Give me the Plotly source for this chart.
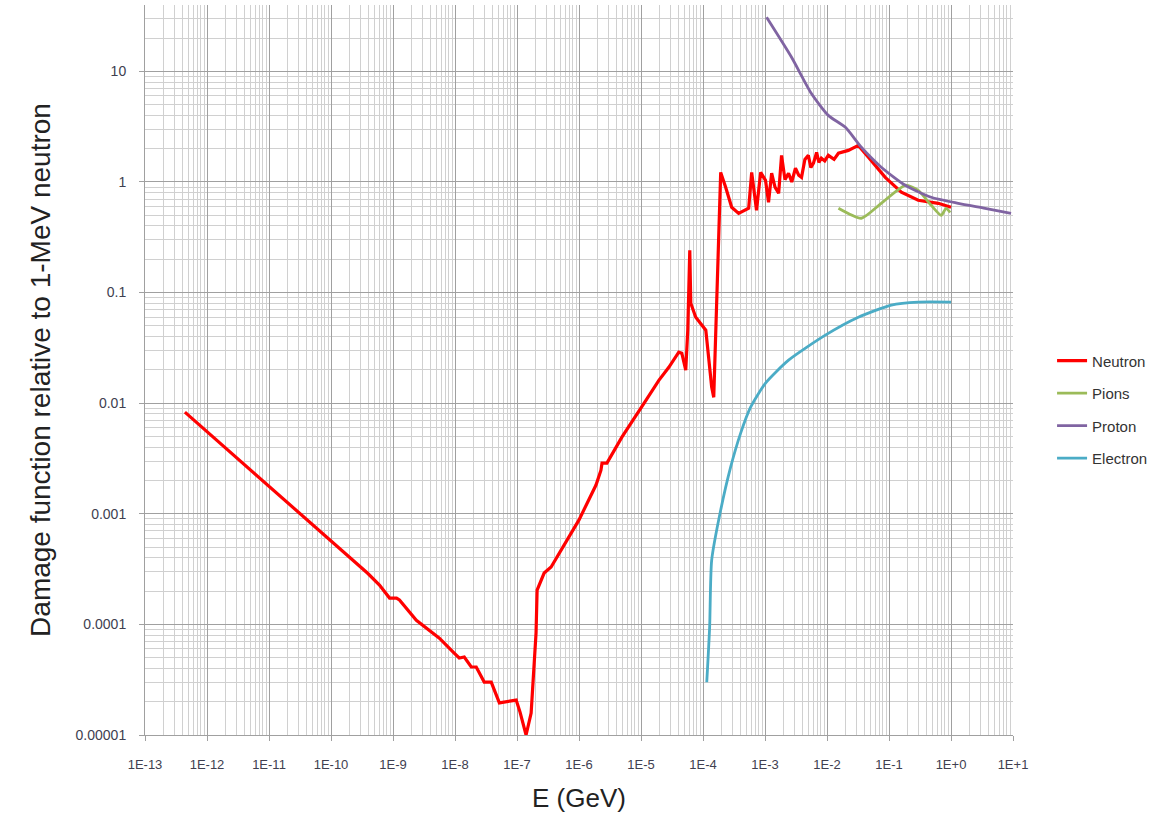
import plotly.graph_objects as go

# ---------------- data ----------------
neutron_E = [4.4e-13, 3.9e-10, 6.05e-10, 7.3e-10, 8.8e-10, 1.14e-9, 1.27e-9, 2.38e-9,
             5.6e-9, 9.7e-9, 1.17e-8, 1.41e-8, 1.83e-8, 2.2e-8, 2.96e-8, 3.84e-8,
             5.2e-8, 9.7e-8, 1.12e-7, 1.40e-7, 1.69e-7, 2.03e-7, 2.11e-7, 2.74e-7,
             3.55e-7, 1.0e-6, 1.45e-6, 1.88e-6, 2.26e-6, 2.35e-6, 2.82e-6, 3.94e-6,
             4.92e-6, 1.2e-5, 1.94e-5, 2.81e-5, 4.07e-5, 4.55e-5, 5.27e-5, 5.68e-5,
             6.12e-5, 6.35e-5, 7.64e-5, 1.11e-4, 1.38e-4, 1.49e-4, 1.6e-4, 1.79e-4,
             1.93e-4, 2.32e-4, 2.9e-4, 3.76e-4, 5.45e-4, 6.1e-4, 7.3e-4, 8.5e-4,
             1.02e-3, 1.14e-3, 1.28e-3, 1.45e-3, 1.66e-3, 1.85e-3, 2.1e-3, 2.4e-3,
             2.7e-3, 3.1e-3, 3.5e-3, 3.88e-3, 4.4e-3, 5.0e-3, 5.5e-3, 6.05e-3,
             6.8e-3, 7.4e-3, 8.1e-3, 9.2e-3, 1.05e-2, 1.3e-2, 1.53e-2, 2.21e-2,
             3.2e-2, 4.65e-2, 8.7e-2, 0.158, 0.296, 0.622, 1.0]
neutron_D = [8.3e-3, 2.9e-4, 2.27e-4, 1.96e-4, 1.73e-4, 1.73e-4, 1.66e-4, 1.09e-4,
             7.5e-5, 5.5e-5, 4.97e-5, 5.07e-5, 4.12e-5, 4.12e-5, 3.01e-5, 3.01e-5,
             1.95e-5, 2.07e-5, 1.61e-5, 1.0e-5, 1.58e-5, 8.4e-5, 2.04e-4, 2.91e-4,
             3.3e-4, 8.8e-4, 1.33e-3, 1.82e-3, 2.48e-3, 2.87e-3, 2.87e-3, 4.0e-3,
             4.93e-3, 1.06e-2, 1.61e-2, 2.11e-2, 2.89e-2, 2.83e-2, 1.99e-2, 4.57e-2,
             0.241, 8.0e-2, 5.98e-2, 4.57e-2, 1.40e-2, 1.13e-2, 4.57e-2, 0.366,
             1.22, 0.895, 0.59, 0.52, 0.578, 1.22, 0.555, 1.22,
             1.035, 0.655, 1.2, 0.9, 0.79, 1.74, 1.05, 1.2,
             1.0, 1.33, 1.15, 1.10, 1.6, 1.74, 1.35, 1.48,
             1.85, 1.5, 1.64, 1.55, 1.74, 1.6, 1.82, 1.93,
             2.14, 1.67, 1.10, 0.807, 0.683, 0.641, 0.59]

pions_E = [1.53e-2, 3.58e-2, 7.5e-2, 0.183, 0.296, 0.48, 0.695, 0.836, 0.97]
pions_D = [0.578, 0.47, 0.641, 0.933, 0.84, 0.615, 0.50, 0.578, 0.53]

proton_E = [1.06e-3, 2.68e-3, 5.6e-3, 1.05e-2, 1.98e-2, 3.58e-2, 7.5e-2, 0.183,
            0.48, 1.31, 3.55, 9.3]
proton_D = [30.8, 13.4, 6.3, 4.0, 3.12, 2.06, 1.36, 0.933,
            0.727, 0.641, 0.578, 0.52]

electron_E = [1.15e-4, 1.28e-4, 1.38e-4, 1.93e-4, 2.79e-4, 4.05e-4, 5.86e-4, 1.02e-3,
              2.4e-3, 9.4e-3, 3.2e-2, 0.109, 0.296, 1.0]
electron_D = [3.0e-5, 9.5e-5, 3.8e-4, 1.08e-3, 2.64e-3, 5.36e-3, 9.2e-3, 1.52e-2,
              2.45e-2, 4.12e-2, 5.98e-2, 7.7e-2, 8.2e-2, 8.2e-2]

x_tickvals = [10.0 ** k for k in range(-13, 2)]
x_ticktext = ["1E-13", "1E-12", "1E-11", "1E-10", "1E-9", "1E-8", "1E-7", "1E-6",
              "1E-5", "1E-4", "1E-3", "1E-2", "1E-1", "1E+0", "1E+1"]
y_tickvals = [1e-5, 1e-4, 1e-3, 1e-2, 1e-1, 1, 10]
y_ticktext = ["0.00001", "0.0001", "0.001", "0.01", "0.1", "1", "10"]

# ---------------- figure ----------------
fig = go.Figure()
series = [
    ("Neutron", neutron_E, neutron_D, "#FF0000", 3.2, "linear"),
    ("Pions", pions_E, pions_D, "#9BBB59", 2.8, "spline"),
    ("Proton", proton_E, proton_D, "#8064A2", 2.8, "spline"),
    ("Electron", electron_E, electron_D, "#4BACC6", 2.8, "spline"),
]
for name, xs, ys, col, w, shp in series:
    fig.add_trace(go.Scatter(
        x=xs, y=ys, mode="lines", name=name, legendgroup=name,
        line=dict(color=col, width=w, shape=shp, smoothing=0.6 if shp == "spline" else None),
    ))

FONT = "Liberation Sans, Arial, sans-serif"

fig.update_xaxes(
    type="log", range=[-13, 1],
    tickvals=x_tickvals, ticktext=x_ticktext,
    tickfont=dict(family=FONT, size=13, color="#404050"),
    ticklabelstandoff=12,
    showgrid=True, gridcolor="#A0A0A0", gridwidth=1,
    minor=dict(dtick="D1", showgrid=True, gridcolor="#D0D0D0", gridwidth=1, ticks=""),
    ticks="outside", ticklen=5, tickcolor="#A0A0A0",
    showline=True, linecolor="#A0A0A0", linewidth=1,
    zeroline=False,
    title=dict(text="E (GeV)", font=dict(family=FONT, size=26, color="#222222"),
               standoff=18),
)
fig.update_yaxes(
    type="log", range=[-5, 1.6],
    tickvals=y_tickvals, ticktext=y_ticktext,
    tickfont=dict(family=FONT, size=14, color="#404050"),
    ticklabelstandoff=10,
    showgrid=True, gridcolor="#A0A0A0", gridwidth=1,
    minor=dict(dtick="D1", showgrid=True, gridcolor="#D0D0D0", gridwidth=1, ticks=""),
    ticks="outside", ticklen=5, tickcolor="#A0A0A0",
    showline=True, linecolor="#A0A0A0", linewidth=1, mirror=False,
    zeroline=False,
    title=dict(text="Damage function relative to 1-MeV neutron",
               font=dict(family=FONT, size=28, color="#222222"),
               standoff=16),
)

fig.update_layout(
    width=1158, height=817,
    margin=dict(l=145, r=143, t=5, b=82),
    paper_bgcolor="white", plot_bgcolor="white",
    showlegend=True,
    legend=dict(x=1.045, y=0.535, xanchor="left", yanchor="top",
                font=dict(family=FONT, size=15, color="#333333"),
                tracegroupgap=10, bgcolor="rgba(0,0,0,0)"),
)

fig.write_html("out.html", config={"displayModeBar": False},
               post_script="document.body.style.margin='0px';")
